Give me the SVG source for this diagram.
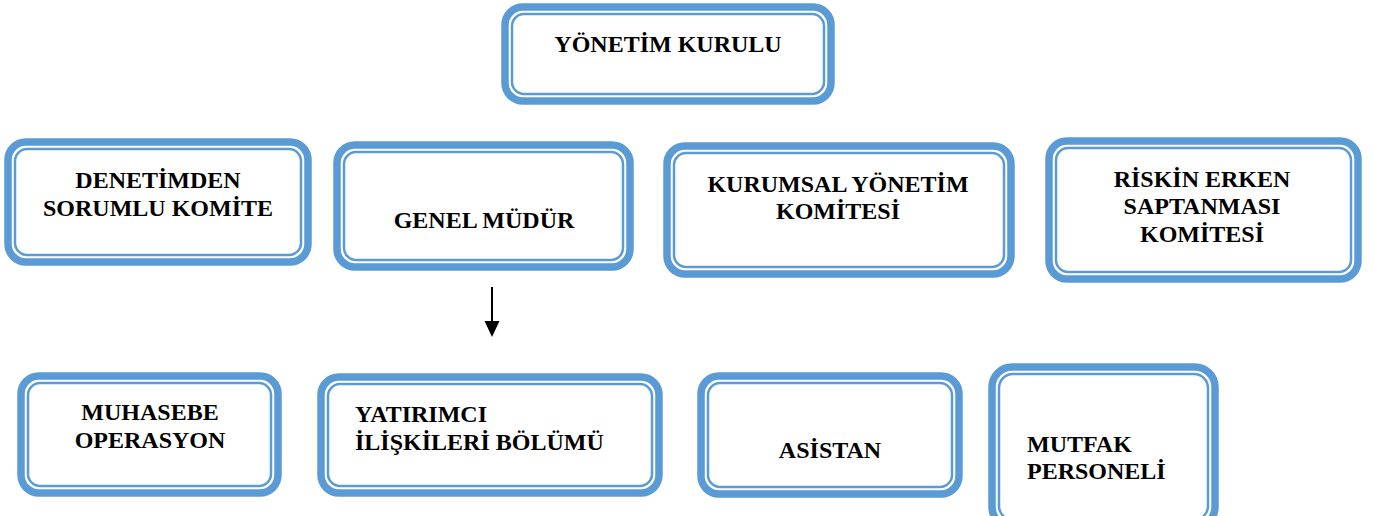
<svg xmlns="http://www.w3.org/2000/svg" width="1374" height="516" viewBox="0 0 1374 516">
<defs>
<style>
.o{fill:#fff;stroke:#5B9BD5;stroke-width:7.5}
.i{fill:none;stroke:#5B9BD5;stroke-width:2.5}
text{font-family:"Liberation Serif","Times New Roman",serif;font-weight:bold;font-size:24px;fill:#000}
.c{text-anchor:middle}
</style>
<marker id="ah" markerWidth="8" markerHeight="8" refX="8" refY="4" orient="auto" markerUnits="userSpaceOnUse" viewBox="0 0 8 8">
<path d="M0,0 L8,4 L0,8 Z" fill="#000"/>
</marker>
</defs>
<rect width="1374" height="516" fill="#fff"/>
<g id="yonetim-kurulu">
<rect class="o" x="505" y="7" width="326" height="94" rx="18"/>
<rect class="i" x="512" y="14" width="312" height="80" rx="12"/>
<text class="c" x="668" y="52">YÖNETİM KURULU</text>
</g>
<g id="denetimden">
<rect class="o" x="8" y="142" width="300" height="120" rx="18"/>
<rect class="i" x="15" y="149" width="286" height="106" rx="12"/>
<text class="c" x="158" y="188">DENETİMDEN</text>
<text class="c" x="158" y="216">SORUMLU KOMİTE</text>
</g>
<g id="genel-mudur">
<rect class="o" x="337" y="145" width="293" height="122" rx="18"/>
<rect class="i" x="344" y="152" width="279" height="108" rx="12"/>
<text class="c" x="484" y="228">GENEL MÜDÜR</text>
</g>
<g id="kurumsal">
<rect class="o" x="667" y="146" width="344" height="128" rx="18"/>
<rect class="i" x="674" y="153" width="330" height="114" rx="12"/>
<text class="c" x="838" y="192">KURUMSAL YÖNETİM</text>
<text class="c" x="838" y="219">KOMİTESİ</text>
</g>
<g id="riskin">
<rect class="o" x="1049" y="141" width="309" height="138" rx="18"/>
<rect class="i" x="1056" y="148" width="295" height="124" rx="12"/>
<text class="c" x="1202" y="187">RİSKİN ERKEN</text>
<text class="c" x="1202" y="214">SAPTANMASI</text>
<text class="c" x="1202" y="242">KOMİTESİ</text>
</g>
<g id="muhasebe">
<rect class="o" x="21" y="376" width="257" height="117" rx="18"/>
<rect class="i" x="28" y="383" width="243" height="103" rx="12"/>
<text class="c" x="150" y="420">MUHASEBE</text>
<text class="c" x="150" y="448">OPERASYON</text>
</g>
<g id="yatirimci">
<rect class="o" x="321" y="377" width="338" height="116" rx="18"/>
<rect class="i" x="328" y="384" width="324" height="102" rx="12"/>
<text x="355" y="422">YATIRIMCI</text>
<text x="355" y="450">İLİŞKİLERİ BÖLÜMÜ</text>
</g>
<g id="asistan">
<rect class="o" x="701" y="376" width="258" height="118" rx="18"/>
<rect class="i" x="708" y="383" width="244" height="104" rx="12"/>
<text class="c" x="830" y="458">ASİSTAN</text>
</g>
<g id="mutfak">
<rect class="o" x="992" y="367" width="223" height="160" rx="20"/>
<rect class="i" x="999" y="374" width="209" height="146" rx="14"/>
<text x="1027" y="452">MUTFAK</text>
<text x="1027" y="479">PERSONELİ</text>
</g>
<g id="connectors">
<line x1="492" y1="287" x2="492" y2="322" stroke="#000" stroke-width="2"/>
<path d="M484.5,321 L499.5,321 L492,337 Z" fill="#000"/>
</g>
</svg>
